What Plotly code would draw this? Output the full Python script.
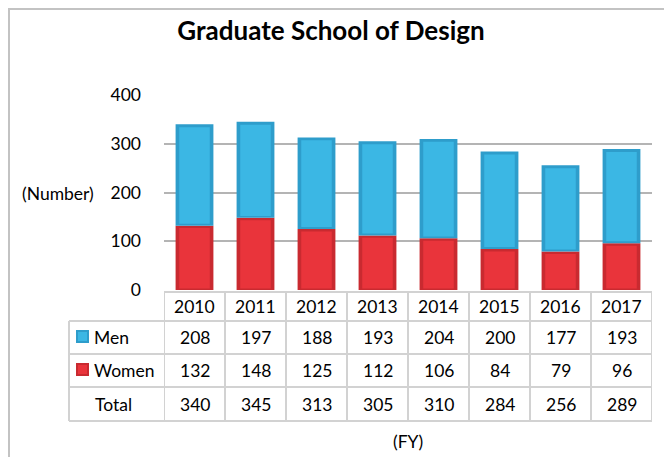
import plotly.graph_objects as go

# data
years = ["2010", "2011", "2012", "2013", "2014", "2015", "2016", "2017"]
men = [208, 197, 188, 193, 204, 200, 177, 193]
women = [132, 148, 125, 112, 106, 84, 79, 96]
total = [340, 345, 313, 305, 310, 284, 256, 289]

# page has an 8px body margin, so the figure is shrunk and offset by it
OFF = 8
W, H = 672 - OFF, 457 - OFF
FONT = "Lato"
FS = 17.5


def py(px):
    # page pixel row -> paper y
    return (H - (px - OFF)) / H


def px_x(px):
    return (px - OFF) / W


BLUE_EDGE, BLUE_FACE = "#2e9dcb", "#3bb7e4"
RED_EDGE, RED_FACE = "#c92a30", "#e9343b"

n = len(years)
xi = list(range(n))  # category positions

fig = go.Figure()

# outer (edge) bars
fig.add_bar(x=xi, y=women, base=[0] * n, width=0.62,
            marker=dict(color=RED_EDGE, line=dict(width=0)), showlegend=False)
fig.add_bar(x=xi, y=men, base=women, width=0.62,
            marker=dict(color=BLUE_EDGE, line=dict(width=0)), showlegend=False)
# inner faces, to fake the bevel
fig.add_bar(x=xi, y=[v - 8 for v in women], base=[3] * n, width=0.5,
            marker=dict(color=RED_FACE, line=dict(width=0)), showlegend=False)
fig.add_bar(x=xi, y=[v - 10 for v in men], base=[w + 4 for w in women], width=0.5,
            marker=dict(color=BLUE_FACE, line=dict(width=0)), showlegend=False)

fig.update_layout(
    width=W, height=H,
    margin=dict(l=0, r=0, t=0, b=0, autoexpand=False),
    paper_bgcolor="white", plot_bgcolor="white",
    barmode="overlay",
    font=dict(family=FONT, size=FS, color="black"),
    title=dict(text="<b>Graduate School of Design</b>", x=px_x(331), xanchor="center",
               y=py(31), yanchor="middle", font=dict(family=FONT, size=26, color="black")),
    xaxis=dict(domain=[px_x(164), px_x(652)], range=[-0.5, n - 0.5], showticklabels=False,
               ticks="", showgrid=False, zeroline=False, showline=False, automargin=False),
    yaxis=dict(domain=[py(290), py(95)], range=[0, 400], tickvals=[0, 100, 200, 300, 400],
               showgrid=True, gridcolor="#b4b4b4", gridwidth=1.5, zeroline=False,
               ticks="", ticklabelstandoff=22, tickfont=dict(size=FS), automargin=False),
)

# outer border of the chart area
fig.add_shape(type="rect", xref="paper", yref="paper",
              x0=px_x(9), x1=px_x(669), y0=py(470), y1=py(9),
              line=dict(color="#c3c3c3", width=2), layer="below")

# data table grid
LINE = dict(color="#d2d2d2", width=2)
row_top, row_hdr, row_men, row_wom, row_tot = 292, 321, 354, 387, 421
fig.add_shape(type="line", xref="x", yref="paper", x0=-0.5, x1=n - 0.5,
              y0=py(row_top), y1=py(row_top), line=LINE)
for r in [row_hdr, row_men, row_wom, row_tot]:
    fig.add_shape(type="line", xref="paper", yref="paper", x0=px_x(69), x1=px_x(652),
                  y0=py(r), y1=py(r), line=LINE)
for i in range(n + 1):
    fig.add_shape(type="line", xref="x", yref="paper", x0=i - 0.5, x1=i - 0.5,
                  y0=py(row_top), y1=py(row_tot), line=LINE)
fig.add_shape(type="line", xref="paper", yref="paper", x0=px_x(69), x1=px_x(69),
              y0=py(row_hdr), y1=py(row_tot), line=LINE)

# legend keys in the table
for yc, edge, face in [(337, BLUE_EDGE, BLUE_FACE), (370, RED_EDGE, RED_FACE)]:
    fig.add_shape(type="rect", xref="paper", yref="paper",
                  x0=px_x(76), x1=px_x(89), y0=py(yc + 6), y1=py(yc - 7),
                  fillcolor=edge, line=dict(width=0))
    fig.add_shape(type="rect", xref="paper", yref="paper",
                  x0=px_x(78), x1=px_x(87), y0=py(yc + 4), y1=py(yc - 5),
                  fillcolor=face, line=dict(width=0))

ann = []
row_centers = [306, 337, 370, 404]
for i, yr in enumerate(years):
    for yc, val in zip(row_centers, [yr, men[i], women[i], total[i]]):
        ann.append(dict(x=i, xref="x", y=py(yc), yref="paper", text=str(val),
                        xanchor="center", yanchor="middle",
                        showarrow=False, font=dict(size=FS)))
for yc, lab, x in [(337, "Men", 92), (370, "Women", 92), (404, "Total", 93)]:
    ann.append(dict(x=px_x(x), xref="paper", y=py(yc), yref="paper", text=lab,
                    xanchor="left", yanchor="middle", showarrow=False, font=dict(size=FS)))
ann.append(dict(x=px_x(58), xref="paper", y=py(193), yref="paper", text="(Number)",
                xanchor="center", yanchor="middle", showarrow=False, font=dict(size=FS)))
ann.append(dict(x=px_x(408), xref="paper", y=py(441), yref="paper", text="(FY)",
                xanchor="center", yanchor="middle", showarrow=False, font=dict(size=FS)))
fig.update_layout(annotations=ann)

fig.write_html("out.html")
